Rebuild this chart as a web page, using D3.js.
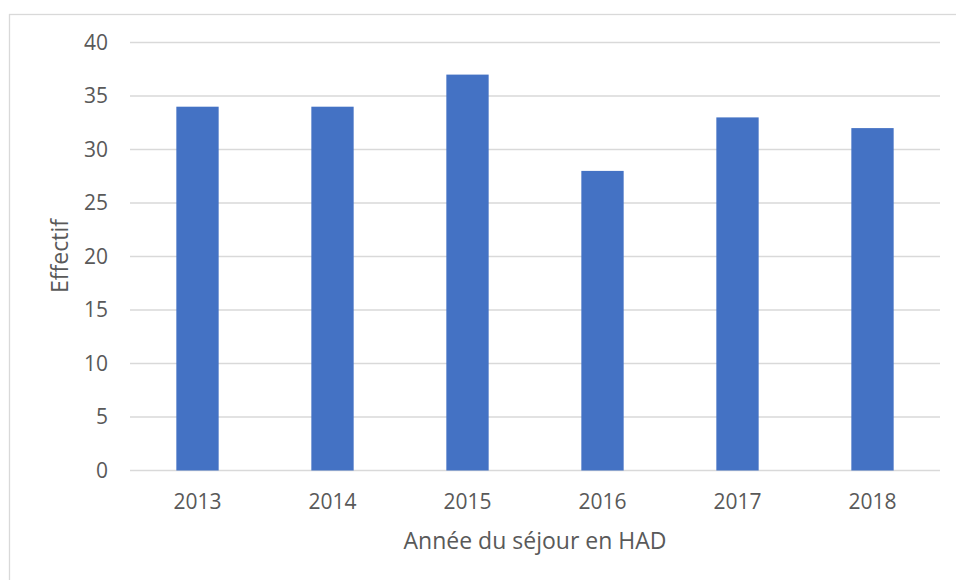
<!DOCTYPE html>
<html lang="fr">
<head>
    <meta charset="UTF-8">
    <title>Effectif par année</title>
    <script src="https://d3js.org/d3.v7.min.js"></script>
    <style>
        body { margin: 0; background: #fff; }
        text {
            font-family: "Open Sans", sans-serif;
            fill: #595959;
        }
        .grid line { stroke: #d9d9d9; stroke-width: 1.3px; }
        .bar { fill: #4472c4; }
    </style>
</head>
<body>
<svg id="chart" width="956" height="580"></svg>

<script>
// data
const years = ["2013", "2014", "2015", "2016", "2017", "2018"];
const counts = [34, 34, 37, 28, 33, 32];
const yTicks = [0, 5, 10, 15, 20, 25, 30, 35, 40];

const svg = d3.select("#chart");
const margin = {top: 42.5, right: 16, bottom: 109.5, left: 130};
const width = 956 - margin.left - margin.right;
const height = 580 - margin.top - margin.bottom;

// outer chart frame (runs off the right and bottom of the picture)
svg.append("rect")
    .attr("x", 9.5).attr("y", 14.5)
    .attr("width", 960).attr("height", 600)
    .attr("fill", "none")
    .attr("stroke", "#d9d9d9")
    .attr("stroke-width", 1.3);

const g = svg.append("g").attr("transform", `translate(${margin.left},${margin.top})`);

const x = d3.scaleBand().domain(years).range([0, width]).padding(0);
const y = d3.scaleLinear().domain([0, 40]).range([height, 0]);

// gridlines
g.append("g")
    .attr("class", "grid")
    .selectAll("line")
    .data(yTicks)
    .join("line")
    .attr("x1", 0).attr("x2", width)
    .attr("y1", d => y(d)).attr("y2", d => y(d));

// bars: gap width like excel's 219%
const barW = x.bandwidth() / 3.19;
g.selectAll(".bar")
    .data(counts)
    .join("rect")
    .attr("class", "bar")
    .attr("x", (d, i) => x(years[i]) + (x.bandwidth() - barW) / 2)
    .attr("y", d => y(d))
    .attr("width", barW)
    .attr("height", d => y(0) - y(d));

// y tick labels
g.selectAll(".ylab")
    .data(yTicks)
    .join("text")
    .attr("class", "ylab")
    .attr("x", -22)
    .attr("y", d => y(d))
    .attr("dy", "0.35em")
    .attr("text-anchor", "end")
    .style("font-size", "21px")
    .text(d => d);

// x tick labels
g.selectAll(".xlab")
    .data(years)
    .join("text")
    .attr("class", "xlab")
    .attr("x", d => x(d) + x.bandwidth() / 2)
    .attr("y", height + 31)
    .attr("dy", "0.35em")
    .attr("text-anchor", "middle")
    .style("font-size", "21px")
    .text(d => d);

// axis titles
svg.append("text")
    .attr("x", margin.left + width / 2)
    .attr("y", 541)
    .attr("dy", "0.35em")
    .attr("text-anchor", "middle")
    .style("font-size", "23px")
    .text("Année du séjour en HAD");

svg.append("text")
    .attr("transform", "translate(60,256) rotate(-90)")
    .attr("dy", "0.35em")
    .attr("text-anchor", "middle")
    .style("font-size", "23px")
    .text("Effectif");
</script>
</body>
</html>
